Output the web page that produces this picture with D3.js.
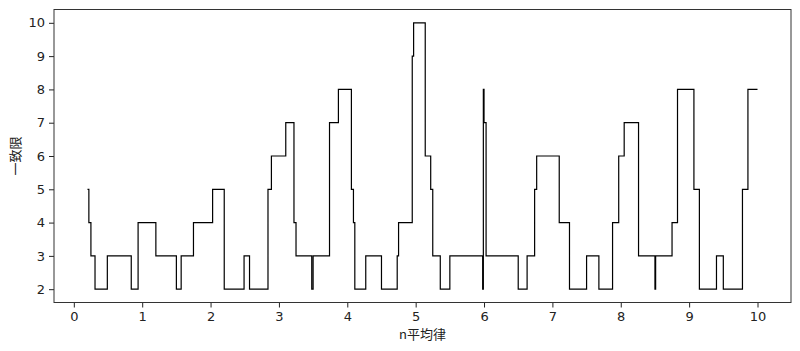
<!DOCTYPE html>
<html>
<head>
<meta charset="utf-8">
<script src="https://cdn.jsdelivr.net/npm/d3@7"></script>
<style>
  body { margin: 0; background: #fff; }
  svg { display: block; }
</style>
</head>
<body>
<svg id="chart" width="800" height="351"></svg>
<script>
// where the value changes (n) and the value held from there on
const stepX = [0.20, 0.22, 0.25, 0.31, 0.49, 0.84, 0.94, 1.20, 1.50, 1.57, 1.75, 2.03, 2.20, 2.49, 2.57,
  2.84, 2.89, 3.10, 3.22, 3.25, 3.48, 3.50, 3.74, 3.87, 4.06, 4.09, 4.11, 4.27, 4.50, 4.73, 4.75,
  4.95, 4.97, 5.14, 5.22, 5.25, 5.36, 5.50, 5.98, 5.99, 6.00, 6.03, 6.50, 6.63, 6.74, 6.77, 7.10,
  7.25, 7.50, 7.68, 7.88, 7.97, 8.05, 8.26, 8.50, 8.51, 8.75, 8.83, 9.07, 9.15, 9.40, 9.50, 9.78,
  9.86, 10.00];
const stepY = [5, 4, 3, 2, 3, 2, 4, 3, 2, 3, 4, 5, 2, 3, 2,
  5, 6, 7, 4, 3, 2, 3, 7, 8, 5, 4, 2, 3, 2, 3, 4,
  9, 10, 6, 5, 3, 2, 3, 2, 8, 7, 3, 2, 3, 5, 6, 4,
  2, 3, 2, 4, 6, 7, 3, 2, 3, 4, 8, 5, 2, 3, 2, 5,
  8, 8];
const xTicks = [0, 1, 2, 3, 4, 5, 6, 7, 8, 9, 10];
const yTicks = [2, 3, 4, 5, 6, 7, 8, 9, 10];
const xLabel = "n平均律";
const yLabel = "一致限";

const data = stepX.map((x, i) => ({ x: x, y: stepY[i] }));

const margin = { top: 9.5, right: 9, bottom: 48.5, left: 54 };
const width = 800, height = 351;
const svg = d3.select("#chart");

const x = d3.scaleLinear()
  .domain([0.2 - 0.49, 10 + 0.49])
  .range([margin.left, width - margin.right]);
const y = d3.scaleLinear()
  .domain([1.6, 10.4])
  .range([height - margin.bottom, margin.top]);

const tickFont = "DejaVu Sans, sans-serif";

const xAxis = g => g
  .attr("transform", `translate(0,${height - margin.bottom})`)
  .call(d3.axisBottom(x).tickValues(xTicks).tickFormat(d3.format("d")).tickSize(5).tickPadding(4).tickSizeOuter(0))
  .call(g => g.select(".domain").remove())
  .call(g => g.selectAll("line").attr("stroke", "#222"))
  .call(g => g.selectAll("text").attr("font-family", tickFont).attr("font-size", 13).attr("fill", "#222"));

const yAxis = g => g
  .attr("transform", `translate(${margin.left},0)`)
  .call(d3.axisLeft(y).tickValues(yTicks).tickFormat(d3.format("d")).tickSize(5).tickPadding(4).tickSizeOuter(0))
  .call(g => g.select(".domain").remove())
  .call(g => g.selectAll("line").attr("stroke", "#222"))
  .call(g => g.selectAll("text").attr("font-family", tickFont).attr("font-size", 13).attr("fill", "#222"));

svg.append("g").call(xAxis);
svg.append("g").call(yAxis);

const line = d3.line()
  .x(d => x(d.x))
  .y(d => y(d.y))
  .curve(d3.curveStepAfter);

svg.append("path")
  .datum(data)
  .attr("fill", "none")
  .attr("stroke", "#000")
  .attr("stroke-width", 1.2)
  .attr("stroke-linejoin", "miter")
  .attr("d", line);

// frame
svg.append("rect")
  .attr("x", margin.left)
  .attr("y", margin.top)
  .attr("width", width - margin.left - margin.right)
  .attr("height", height - margin.top - margin.bottom)
  .attr("fill", "none")
  .attr("stroke", "#333")
  .attr("stroke-width", 1);

svg.append("text")
  .attr("x", (margin.left + width - margin.right) / 2)
  .attr("y", 339)
  .attr("text-anchor", "middle")
  .attr("font-family", "Noto Sans CJK JP, sans-serif")
  .attr("font-size", 13)
  .attr("fill", "#222")
  .text(xLabel);

svg.append("text")
  .attr("transform", `translate(20,${(margin.top + height - margin.bottom) / 2}) rotate(-90)`)
  .attr("text-anchor", "middle")
  .attr("font-family", "Noto Sans CJK JP, sans-serif")
  .attr("font-size", 13)
  .attr("fill", "#222")
  .text(yLabel);
</script>
</body>
</html>
